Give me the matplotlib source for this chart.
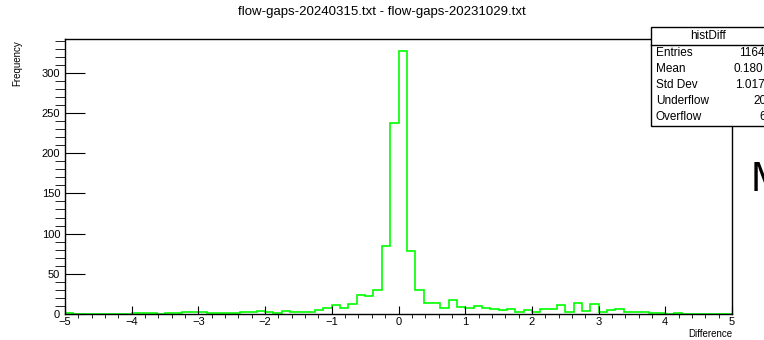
import numpy as np
import matplotlib.pyplot as plt
from matplotlib.patches import Rectangle
from matplotlib.ticker import MultipleLocator

plt.rcParams['font.family'] = ['Liberation Sans', 'DejaVu Sans']

# histogramma: 80 bin tra -5 e 5
x_min, x_max, n_bins = -5.0, 5.0, 80
counts = [1, 0, 0, 0, 0, 0, 0, 0,
          1, 1, 1, 0, 1, 1, 2, 2,
          2, 1, 1, 1, 1, 2, 3, 4,
          3, 1, 4, 3, 2, 3, 5, 7,
          11, 8, 12, 24, 22, 30, 85, 238,
          327, 78, 30, 14, 14, 8, 18, 9,
          7, 10, 8, 6, 5, 6, 3, 5,
          3, 6, 6, 11, 3, 14, 4, 12,
          3, 5, 6, 2, 2, 3, 1, 1,
          0, 1, 0, 0, 0, 0, 0, 0]
edges = np.linspace(x_min, x_max, n_bins + 1)

title = "flow-gaps-20240315.txt - flow-gaps-20231029.txt"
stat_names = ["Entries", "Mean", "Std Dev", "Underflow", "Overflow"]
stat_values = ["1164", "0.180", "1.017", "20", "6"]
value_x = [739, 734, 735, 753, 759]

W, H = 764, 340
fig = plt.figure(figsize=(W / 100, H / 100), dpi=100)


def fx(px):
    return px / W


def fy(py):
    return 1 - py / H


ax = fig.add_axes([fx(65), fy(314), fx(732) - fx(65), fy(39) - fy(314)])
ax.stairs(counts, edges, color='#00ff00', lw=1.2)
ax.set_xlim(x_min, x_max)
ax.set_ylim(0, 342)

ax.xaxis.set_major_locator(MultipleLocator(1))
ax.xaxis.set_minor_locator(MultipleLocator(0.2))
ax.yaxis.set_major_locator(MultipleLocator(50))
ax.yaxis.set_minor_locator(MultipleLocator(10))
ax.tick_params(direction='in', top=False, right=False, labelsize=8, width=0.8)
ax.tick_params(axis='x', which='major', length=6, pad=2)
ax.tick_params(axis='x', which='minor', length=3)
ax.tick_params(axis='y', which='major', length=14.4, pad=3.5)
ax.tick_params(axis='y', which='minor', length=7.2)
for s in ax.spines.values():
    s.set_linewidth(1)

fig.text(0.5, fy(12), title, ha='center', va='center', fontsize=9.5)
fig.text(fx(17), fy(40), "Frequency", rotation=90, ha='center', va='top', fontsize=7)
fig.text(fx(732), fy(334), "Difference", ha='right', va='center', fontsize=7)

# riquadro delle statistiche (tagliato a destra)
box_left, box_top, box_bottom, head_y = 651, 27, 126, 45
fig.add_artist(Rectangle((fx(box_left), fy(box_bottom)), fx(130), fy(box_top) - fy(box_bottom),
                         transform=fig.transFigure, facecolor='white', edgecolor='black', lw=1, zorder=5))
fig.add_artist(plt.Line2D([fx(box_left), 1], [fy(head_y), fy(head_y)], transform=fig.transFigure,
                          color='black', lw=1, zorder=6))
fig.text(fx(708), fy(36), "histDiff", ha='center', va='center', fontsize=8.5, zorder=7)
for i, (name, val) in enumerate(zip(stat_names, stat_values)):
    y = 53 + i * 16
    fig.text(fx(656), fy(y), name, ha='left', va='center', fontsize=8.5, zorder=7)
    fig.text(fx(value_x[i]), fy(y), val, ha='left', va='center', fontsize=8.5, zorder=7)

fig.text(fx(751), fy(180), "M", ha='left', va='center', fontsize=30)

fig.savefig("out.png", dpi=100)
